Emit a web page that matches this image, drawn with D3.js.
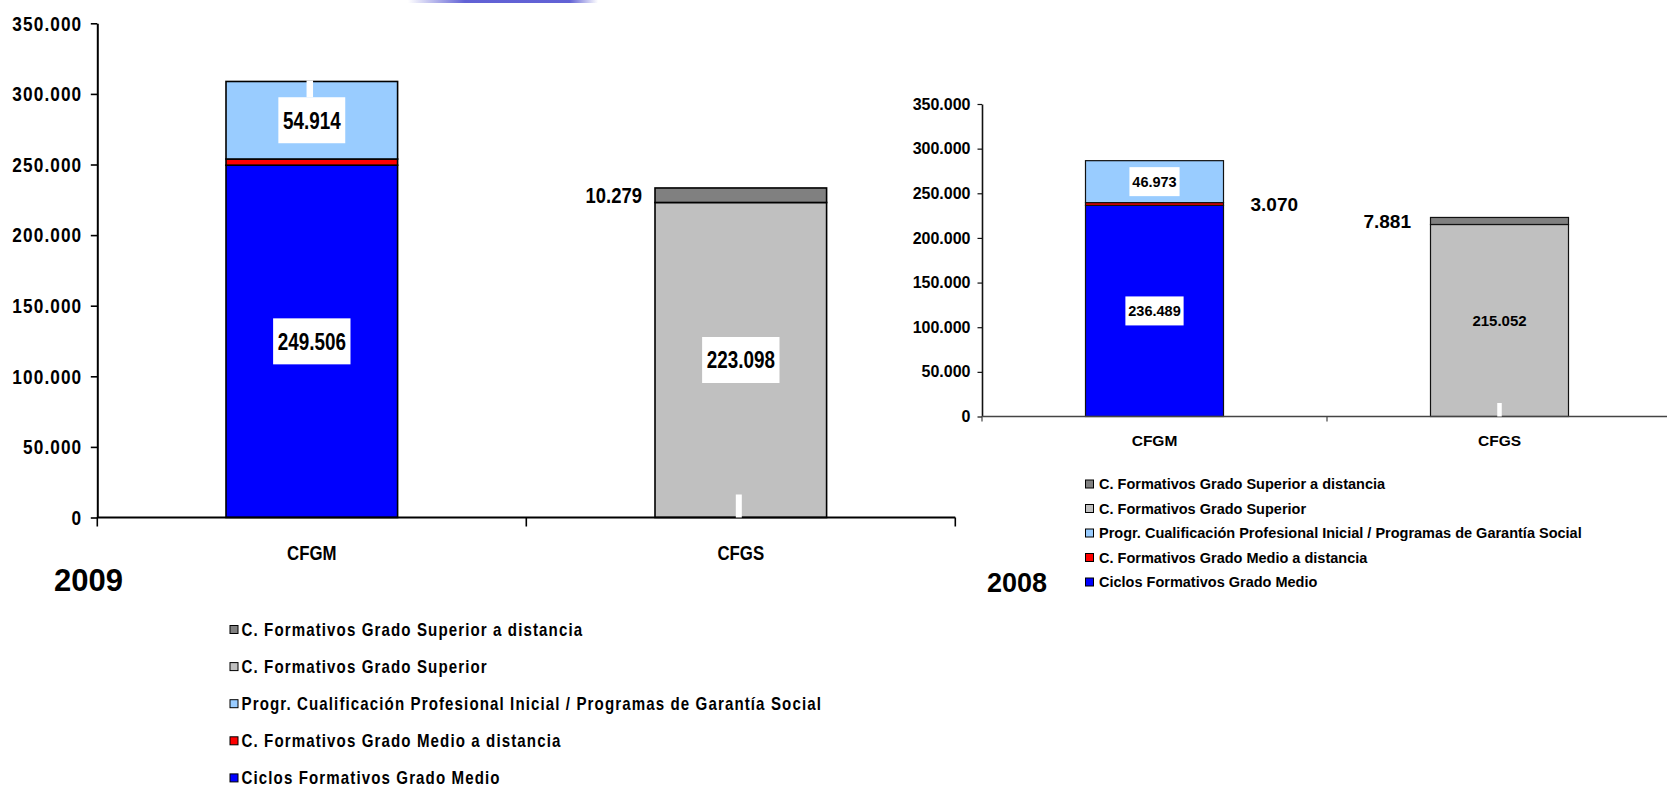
<!DOCTYPE html>
<html><head><meta charset="utf-8">
<script src="https://cdn.jsdelivr.net/npm/d3@7/dist/d3.min.js"></script>
<style>html,body{margin:0;padding:0;background:#fff;overflow:hidden}</style>
</head><body>
<svg id="c" width="1667" height="789"></svg>
<script>
// ---------- DATA ----------
const categories = ["CFGM", "CFGS"];
const seriesKeys = ["cfgm", "cfgmDist", "pcpi", "cfgs", "cfgsDist"];
const seriesNames = [
  "Ciclos Formativos Grado Medio",
  "C. Formativos Grado Medio a distancia",
  "Progr. Cualificación Profesional Inicial / Programas de Garantía Social",
  "C. Formativos Grado Superior",
  "C. Formativos Grado Superior a distancia"
];
const legendOrder = ["cfgsDist", "cfgs", "pcpi", "cfgmDist", "cfgm"];

// 2009 (values per category: CFGM, CFGS)
const v2009_cfgm     = [249506, 0];
const v2009_cfgmDist = [4380, 0];
const v2009_pcpi     = [54914, 0];
const v2009_cfgs     = [0, 223098];
const v2009_cfgsDist = [0, 10279];

// 2008
const v2008_cfgm     = [236489, 0];
const v2008_cfgmDist = [3070, 0];
const v2008_pcpi     = [46973, 0];
const v2008_cfgs     = [0, 215052];
const v2008_cfgsDist = [0, 7881];

const yTicks = [0, 50000, 100000, 150000, 200000, 250000, 300000, 350000];
const yMax = 350000;
const yearLabels = ["2009", "2008"];

// ---------- STYLE ----------
const colors = {cfgm:"#0000FF", cfgmDist:"#FF0000", pcpi:"#99CCFF", cfgs:"#C0C0C0", cfgsDist:"#808080"};
const ARIAL = "'Liberation Sans',Arial,sans-serif";
const NARROW_SX = 0.82; // horizontal compression emulating Arial Narrow

const esLocale = d3.formatLocale({decimal: ",", thousands: ".", grouping: [3], currency: ["", " €"]});
const fmt = esLocale.format(",d");

const svg = d3.select("#c");

// compress text horizontally around its anchor point
function squeeze(sel, sx) {
  if (sx === 1) return;
  sel.each(function() {
    const xv = +this.getAttribute("x") || 0;
    const yv = +this.getAttribute("y") || 0;
    this.setAttribute("x", 0);
    this.setAttribute("y", 0);
    this.setAttribute("transform", `translate(${xv},${yv}) scale(${sx},1)`);
  });
}

// decorative gradient strip at the top
const defs = svg.append("defs");
const grad = defs.append("linearGradient").attr("id", "topgrad");
grad.append("stop").attr("offset", "0%").attr("stop-color", "#5050d0").attr("stop-opacity", 0);
grad.append("stop").attr("offset", "30%").attr("stop-color", "#5050d0").attr("stop-opacity", 0.9);
grad.append("stop").attr("offset", "85%").attr("stop-color", "#5050d0").attr("stop-opacity", 0.9);
grad.append("stop").attr("offset", "100%").attr("stop-color", "#5050d0").attr("stop-opacity", 0);
svg.append("rect").attr("x", 408).attr("y", 0).attr("width", 190).attr("height", 3).attr("fill", "url(#topgrad)");

function drawChart(cfg) {
  const g = svg.append("g");
  const sx = cfg.sx;
  const x = d3.scaleBand().domain(categories).range(cfg.xRange).paddingInner(0.6).paddingOuter(0.3);
  const y = d3.scaleLinear().domain([0, yMax]).range(cfg.yRange);
  const rows = categories.map((c, i) => {
    const r = {cat: c};
    seriesKeys.forEach(k => r[k] = cfg.data[k][i]);
    return r;
  });
  const stacked = d3.stack().keys(seriesKeys)(rows);

  // bars
  stacked.forEach(layer => {
    g.append("g").selectAll("rect")
      .data(layer.filter(d => d[1] - d[0] > 0))
      .join("rect")
      .attr("x", d => x(d.data.cat))
      .attr("width", x.bandwidth())
      .attr("y", d => y(d[1]))
      .attr("height", d => y(d[0]) - y(d[1]))
      .attr("fill", colors[layer.key])
      .attr("stroke", cfg.barStroke)
      .attr("stroke-width", cfg.barStrokeW);
  });

  // y axis
  const ya = g.append("g")
    .attr("transform", `translate(${cfg.xRange[0]},0)`)
    .call(d3.axisLeft(y).tickValues(yTicks).tickFormat(fmt)
      .tickSize(cfg.tickSize).tickSizeOuter(0).tickPadding(cfg.tickPad));
  ya.select(".domain").attr("stroke", cfg.axisColor).attr("stroke-width", cfg.axisW);
  ya.selectAll(".tick line").attr("stroke", cfg.axisColor).attr("stroke-width", cfg.tickW);
  const yt = ya.selectAll(".tick text")
    .attr("font-family", ARIAL).attr("font-weight", "bold")
    .attr("font-size", cfg.tickFs).attr("letter-spacing", cfg.tickLs).attr("fill", "#000");
  squeeze(yt, sx);

  // x axis: category labels
  const xa = g.append("g")
    .attr("transform", `translate(0,${cfg.yRange[0]})`)
    .call(d3.axisBottom(x).tickSize(0).tickPadding(cfg.xLabPad));
  xa.select(".domain").remove();
  const xt = xa.selectAll(".tick text")
    .attr("font-family", ARIAL).attr("font-weight", "bold")
    .attr("font-size", cfg.xFs).attr("fill", "#000");
  squeeze(xt, sx);

  // x axis line with boundary ticks
  const y0 = y(0);
  g.append("line").attr("x1", cfg.xRange[0]).attr("x2", cfg.xRange[1])
    .attr("y1", y0).attr("y2", y0)
    .attr("stroke", cfg.xAxisColor).attr("stroke-width", cfg.axisW);
  const bounds = d3.range(categories.length + 1).map(i => cfg.xRange[0] + i * x.step());
  g.selectAll(null).data(bounds).join("line")
    .attr("x1", d => d).attr("x2", d => d)
    .attr("y1", y0).attr("y2", y0 + cfg.xTickLen)
    .attr("stroke", cfg.xAxisColor).attr("stroke-width", cfg.tickW);

  // data labels
  cfg.labels.forEach(L => {
    const ci = categories.indexOf(L.cat);
    const layer = stacked[seriesKeys.indexOf(L.key)];
    const d = layer[ci];
    const val = d[1] - d[0];
    const cy = (y(d[0]) + y(d[1])) / 2;
    const bx = x(L.cat), bw = x.bandwidth();
    let tx, anchor;
    if (L.mode === "left") { tx = bx - L.gap; anchor = "end"; }
    else if (L.mode === "right") { tx = bx + bw + L.gap; anchor = "start"; }
    else { tx = bx + bw / 2; anchor = "middle"; }
    const t = g.append("text")
      .attr("x", tx).attr("y", cy).attr("dy", "0.36em")
      .attr("text-anchor", anchor)
      .attr("font-family", ARIAL).attr("font-weight", "bold")
      .attr("font-size", L.fs).attr("fill", "#000")
      .text(fmt(val));
    const tw = t.node().getComputedTextLength() * sx;
    squeeze(t, sx);
    if (L.box) {
      const pad = L.fs * 0.2;
      g.insert("rect", () => t.node())
        .attr("x", tx - tw / 2 - pad).attr("width", tw + 2 * pad)
        .attr("y", cy - L.fs).attr("height", 2 * L.fs)
        .attr("fill", "#fff");
      if (L.notchTop) {
        g.append("rect")
          .attr("x", bx + bw / 2 + L.notchDx - L.notchW / 2).attr("width", L.notchW)
          .attr("y", y(d[1]) - 1).attr("height", cy - L.fs - y(d[1]) + 1)
          .attr("fill", "#fff");
      }
    }
    if (L.notchBottom) {
      g.append("rect")
        .attr("x", bx + bw / 2 + L.notchDx - L.notchW / 2).attr("width", L.notchW)
        .attr("y", y0 - L.notchBottom).attr("height", L.notchBottom)
        .attr("fill", "#fff");
    }
  });

  // year label
  g.append("text").attr("x", cfg.yearX).attr("y", cfg.yearY)
    .attr("font-family", ARIAL).attr("font-weight", "bold")
    .attr("font-size", cfg.yearFs).attr("fill", "#000").text(cfg.year);

  // legend
  const lg = g.append("g");
  legendOrder.forEach((k, i) => {
    const cy = cfg.legY0 + i * cfg.legStep;
    lg.append("rect").attr("x", cfg.legX).attr("y", cy - cfg.legSq / 2)
      .attr("width", cfg.legSq).attr("height", cfg.legSq)
      .attr("fill", colors[k]).attr("stroke", "#000").attr("stroke-width", 1);
    const lt = lg.append("text").attr("x", cfg.legTextX).attr("y", cy).attr("dy", "0.35em")
      .attr("font-family", ARIAL).attr("font-weight", "bold")
      .attr("font-size", cfg.legFs).attr("letter-spacing", cfg.legLs).attr("fill", "#000")
      .text(seriesNames[seriesKeys.indexOf(k)]);
    squeeze(lt, sx);
  });
}

// ---------- 2009 (left) ----------
drawChart({
  year: yearLabels[0], sx: NARROW_SX,
  data: {cfgm: v2009_cfgm, cfgmDist: v2009_cfgmDist, pcpi: v2009_pcpi, cfgs: v2009_cfgs, cfgsDist: v2009_cfgsDist},
  xRange: [97.3, 955.3], yRange: [517.5, 23.3],
  barStroke: "#000", barStrokeW: 1.6,
  axisColor: "#000", xAxisColor: "#000", axisW: 2, tickW: 1.6,
  tickSize: 6.5, tickPad: 8.5, tickFs: 21, tickLs: 1.35,
  xFs: 20.5, xLabPad: 28,
  xTickLen: 9,
  labels: [
    {key: "pcpi", cat: "CFGM", mode: "center", box: true, fs: 23, notchTop: true, notchDx: -2, notchW: 6.5},
    {key: "cfgm", cat: "CFGM", mode: "center", box: true, fs: 23},
    {key: "cfgs", cat: "CFGS", mode: "center", box: true, fs: 23, notchBottom: 23, notchDx: -2, notchW: 6},
    {key: "cfgsDist", cat: "CFGS", mode: "left", gap: 13, fs: 22.5}
  ],
  yearX: 54, yearY: 591, yearFs: 31,
  legX: 230, legTextX: 241.5, legY0: 629.5, legStep: 37.1, legSq: 8,
  legFs: 18.4, legLs: 1.35
});

// ---------- 2008 (right) ----------
drawChart({
  year: yearLabels[1], sx: 1,
  data: {cfgm: v2008_cfgm, cfgmDist: v2008_cfgmDist, pcpi: v2008_pcpi, cfgs: v2008_cfgs, cfgsDist: v2008_cfgsDist},
  xRange: [982, 1672], yRange: [416.5, 104],
  barStroke: "#111", barStrokeW: 1.2,
  axisColor: "#111", xAxisColor: "#444", axisW: 1.6, tickW: 1.2,
  tickSize: 4.5, tickPad: 7, tickFs: 16, tickLs: 0,
  xFs: 15.5, xLabPad: 18,
  xTickLen: 5,
  labels: [
    {key: "pcpi", cat: "CFGM", mode: "center", box: true, fs: 14.5},
    {key: "cfgm", cat: "CFGM", mode: "center", box: true, fs: 14.5},
    {key: "cfgmDist", cat: "CFGM", mode: "right", gap: 27, fs: 19},
    {key: "cfgs", cat: "CFGS", mode: "center", box: false, fs: 15, notchBottom: 13.5, notchDx: 0, notchW: 4.5},
    {key: "cfgsDist", cat: "CFGS", mode: "left", gap: 19.5, fs: 19}
  ],
  yearX: 987, yearY: 592, yearFs: 27,
  legX: 1085.5, legTextX: 1099, legY0: 484, legStep: 24.5, legSq: 8,
  legFs: 14.5, legLs: 0
});
</script>
</body></html>
